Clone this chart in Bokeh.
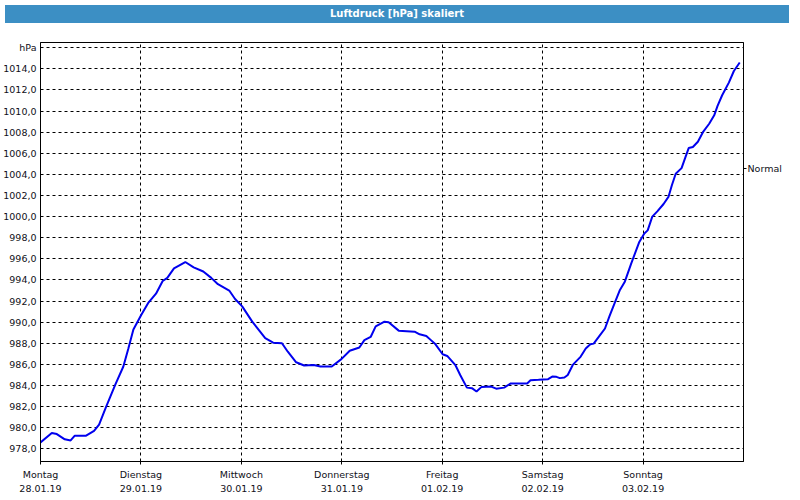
from bokeh.plotting import figure
from bokeh.models import FixedTicker, LinearAxis, Range1d, Div
from bokeh.layouts import column
from bokeh.embed import file_html
from bokeh.resources import INLINE

# --- data (hours since Monday 28.01.19 00:00, pressure in hPa) ---
hours = [0, 2.7, 3.9, 5.8, 7.2, 8.2, 10.9, 12.8, 14.0, 15.6, 17.9, 19.8, 21.0, 22.2,
         24.1, 25.7, 27.6, 29.2, 30.3, 31.9, 34.6, 36.6, 38.9, 40.8, 42.4, 45.1, 46.5,
         48.2, 50.6, 53.7, 55.6, 57.7, 59.1, 61.1, 63.0, 65.3, 66.9, 69.6, 71.9, 73.9,
         76.2, 77.4, 78.9, 80.1, 82.2, 83.2, 85.6, 89.4, 90.6, 92.2, 93.3, 94.4, 96.1,
         97.2, 99.2, 100.3, 101.9, 103.1, 104.2, 105.4, 107.7, 108.9, 110.8, 112.4,
         116.3, 117.1, 119.0, 121.3, 122.3, 123.3, 124.1, 125.2, 126.0, 127.2, 129.1,
         130.3, 131.4, 132.2, 133.4, 134.9, 136.0, 137.3, 138.4, 139.6, 141.2, 143.1,
         144.3, 145.1, 146.2, 147.4, 148.9, 150.1, 150.9, 151.8, 153.2, 154.0, 154.9,
         155.9, 157.1, 158.3, 159.8, 161.0, 161.8, 162.9, 164.5, 165.7, 167.1]
pressure = [978.6, 979.5, 979.4, 978.9, 978.8, 979.25, 979.25, 979.7, 980.3, 981.9,
            984.1, 985.8, 987.5, 989.3, 990.7, 991.8, 992.7, 993.9, 994.2, 995.1, 995.7,
            995.2, 994.8, 994.2, 993.6, 993.0, 992.2, 991.5, 990.05, 988.5, 988.06,
            988.0, 987.2, 986.2, 985.9, 985.95, 985.8, 985.8, 986.5, 987.3, 987.6,
            988.3, 988.6, 989.6, 990.05, 990.0, 989.2, 989.1, 988.85, 988.7, 988.3,
            987.9, 986.96, 986.8, 985.9, 985.0, 983.8, 983.75, 983.43, 983.87, 983.9,
            983.7, 983.8, 984.2, 984.2, 984.5, 984.54, 984.6, 984.85, 984.82, 984.7,
            984.76, 985.0, 985.95, 986.74, 987.5, 987.9, 987.97, 988.6, 989.4, 990.6,
            991.9, 993.0, 993.8, 995.6, 997.6, 998.4, 998.7, 1000.0, 1000.5, 1001.2,
            1001.9, 1003.0, 1004.06, 1004.6, 1005.5, 1006.5, 1006.6, 1007.1, 1008.0,
            1008.8, 1009.6, 1010.5, 1011.5, 1012.7, 1013.8, 1014.6]

day_ticks = [0, 24, 48, 72, 96, 120, 144]
day_names = ["Montag", "Dienstag", "Mittwoch", "Donnerstag", "Freitag", "Samstag", "Sonntag"]
day_dates = ["28.01.19", "29.01.19", "30.01.19", "31.01.19", "01.02.19", "02.02.19", "03.02.19"]

y_ticks = [978, 980, 982, 984, 986, 988, 990, 992, 994, 996, 998, 1000, 1002, 1004,
           1006, 1008, 1010, 1012, 1014, 1016]
y_tick_labels = ["978,0", "980,0", "982,0", "984,0", "986,0", "988,0", "990,0", "992,0",
                 "994,0", "996,0", "998,0", "1000,0", "1002,0", "1004,0", "1006,0",
                 "1008,0", "1010,0", "1012,0", "1014,0", "hPa"]

x_end = 168
normal_value = 1004.6
normal_label = "Normal"
title_text = "Luftdruck [hPa] skaliert"

FONT = "DejaVu Sans"
FS = "9.5px"
TXT = "#101018"

title_bar = Div(text=title_text, width=784, height=18,
                styles={"background-color": "#3c8fc4", "color": "white",
                        "font-family": FONT, "font-weight": "bold", "font-size": "10px",
                        "text-align": "center", "line-height": "18px"})

p = figure(width=784, height=466, x_range=Range1d(0, x_end), y_range=Range1d(976.8, 1016.5),
           output_backend="svg", toolbar_location=None,
           min_border_left=0, min_border_right=0, min_border_top=14, min_border_bottom=30)
p.background_fill_color = "white"
p.border_fill_color = "white"
p.outline_line_color = "black"
p.outline_line_width = 1

p.line(hours, pressure, line_color="#0000ee", line_width=2)

# left axis
ya = p.left[0]
ya.ticker = FixedTicker(ticks=y_ticks)
ya.major_label_overrides = {t: l for t, l in zip(y_ticks, y_tick_labels)}
ya.major_tick_line_color = None
ya.minor_tick_line_color = None
ya.axis_line_color = "black"
ya.major_label_standoff = -2
ya.major_label_text_font = FONT
ya.major_label_text_font_size = FS
ya.major_label_text_color = TXT

# bottom axis: day names
xa = p.below[0]
xa.ticker = FixedTicker(ticks=day_ticks)
xa.major_label_overrides = {t: l for t, l in zip(day_ticks, day_names)}
xa.major_tick_in = 0
xa.major_tick_out = 3
xa.minor_tick_line_color = None
xa.axis_line_color = "black"
xa.major_label_standoff = 4
xa.major_label_text_font = FONT
xa.major_label_text_font_size = FS
xa.major_label_text_color = TXT

# second bottom axis: dates
xa2 = LinearAxis(ticker=FixedTicker(ticks=day_ticks),
                 major_label_overrides={t: l for t, l in zip(day_ticks, day_dates)},
                 axis_line_color=None, major_tick_line_color=None,
                 minor_tick_line_color=None, major_label_standoff=-4,
                 major_label_text_font=FONT, major_label_text_font_size=FS,
                 major_label_text_color=TXT)
p.add_layout(xa2, "below")

# right axis: "Normal" marker
ra = LinearAxis(ticker=FixedTicker(ticks=[normal_value]),
                major_label_overrides={normal_value: normal_label},
                axis_line_color="black", major_tick_in=0, major_tick_out=3,
                major_tick_line_color="black", minor_tick_line_color=None,
                major_label_standoff=1, major_label_text_font=FONT,
                major_label_text_font_size=FS, major_label_text_color=TXT)
p.add_layout(ra, "right")

for g in (p.xgrid, p.ygrid):
    g.grid_line_color = "black"
    g.grid_line_dash = "3 3"
    g.grid_line_width = 1

layout = column(title_bar, p, spacing=0)
open("out.html", "w").write(file_html(layout, INLINE))
